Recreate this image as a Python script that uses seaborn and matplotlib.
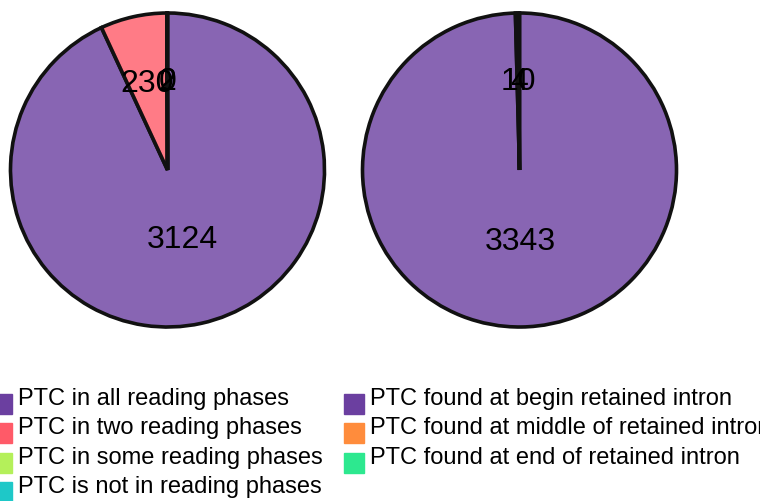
import numpy as np
import matplotlib.pyplot as plt
import seaborn as sns
from matplotlib.colors import to_rgba
from matplotlib.patches import Rectangle

# left pie: reading phases of the PTC
reading_labels = ['PTC in all reading phases', 'PTC in two reading phases',
                  'PTC in some reading phases', 'PTC is not in reading phases']
reading_counts = [3124, 230, 2, 0]
reading_colors = ['#6b3fa0', '#ff5a68', '#b4f05a', '#1ec8c8']

# right pie: where in the retained intron the PTC is found
position_labels = ['PTC found at begin retained intron', 'PTC found at middle of retained intron',
                   'PTC found at end of retained intron']
position_counts = [3343, 10, 4]
position_colors = ['#6b3fa0', '#ff8c3c', '#2de88f']

sns.set_style('white')
plt.rcParams['font.family'] = ['Liberation Sans', 'DejaVu Sans']
plt.rcParams['text.color'] = 'black'

W, H = 760, 502
R = 157  # pie radius in pixels
fig = plt.figure(figsize=(W / 100, H / 100), dpi=100)


def pie_axes(cx, cy):
    pad = R + 4
    ax = fig.add_axes([(cx - pad) / W, (H - cy - pad) / H, 2 * pad / W, 2 * pad / H])
    lim = pad / R
    return ax, lim


def draw_pie(ax, lim, counts, colors):
    wedges, _ = ax.pie(counts, colors=[to_rgba(c, 0.8) for c in colors],
                       startangle=90, counterclock=False,
                       wedgeprops=dict(edgecolor='#111111', linewidth=2.6))
    big = int(np.argmax(counts))
    for i, (w, n) in enumerate(zip(wedges, counts)):
        theta = np.deg2rad((w.theta1 + w.theta2) / 2)
        r = 0.43 if i == big else 0.59
        ax.text(r * np.cos(theta), r * np.sin(theta) - 0.073, str(n),
                ha='center', va='baseline', fontsize=23, color='black')
    ax.set_xlim(-lim, lim)
    ax.set_ylim(-lim, lim)
    ax.set_axis_off()


def draw_legend(labels, colors, box_x, text_x):
    for i, (lab, col) in enumerate(zip(labels, colors)):
        top = 395 + 29.3 * i
        fig.patches.append(Rectangle((box_x / W, (H - top - 20) / H), 20 / W, 20 / H,
                                     transform=fig.transFigure, color=col))
        fig.text(text_x / W, (H - (405 + 29.3 * i)) / H, lab, fontsize=17,
                 va='baseline', color='black')


ax1, lim1 = pie_axes(167.5, 171)
draw_pie(ax1, lim1, reading_counts, reading_colors)
ax2, lim2 = pie_axes(519.5, 171)
draw_pie(ax2, lim2, position_counts, position_colors)

draw_legend(reading_labels, reading_colors, -8, 18)
draw_legend(position_labels, position_colors, 344, 370)

fig.savefig('out.png', dpi=100)
